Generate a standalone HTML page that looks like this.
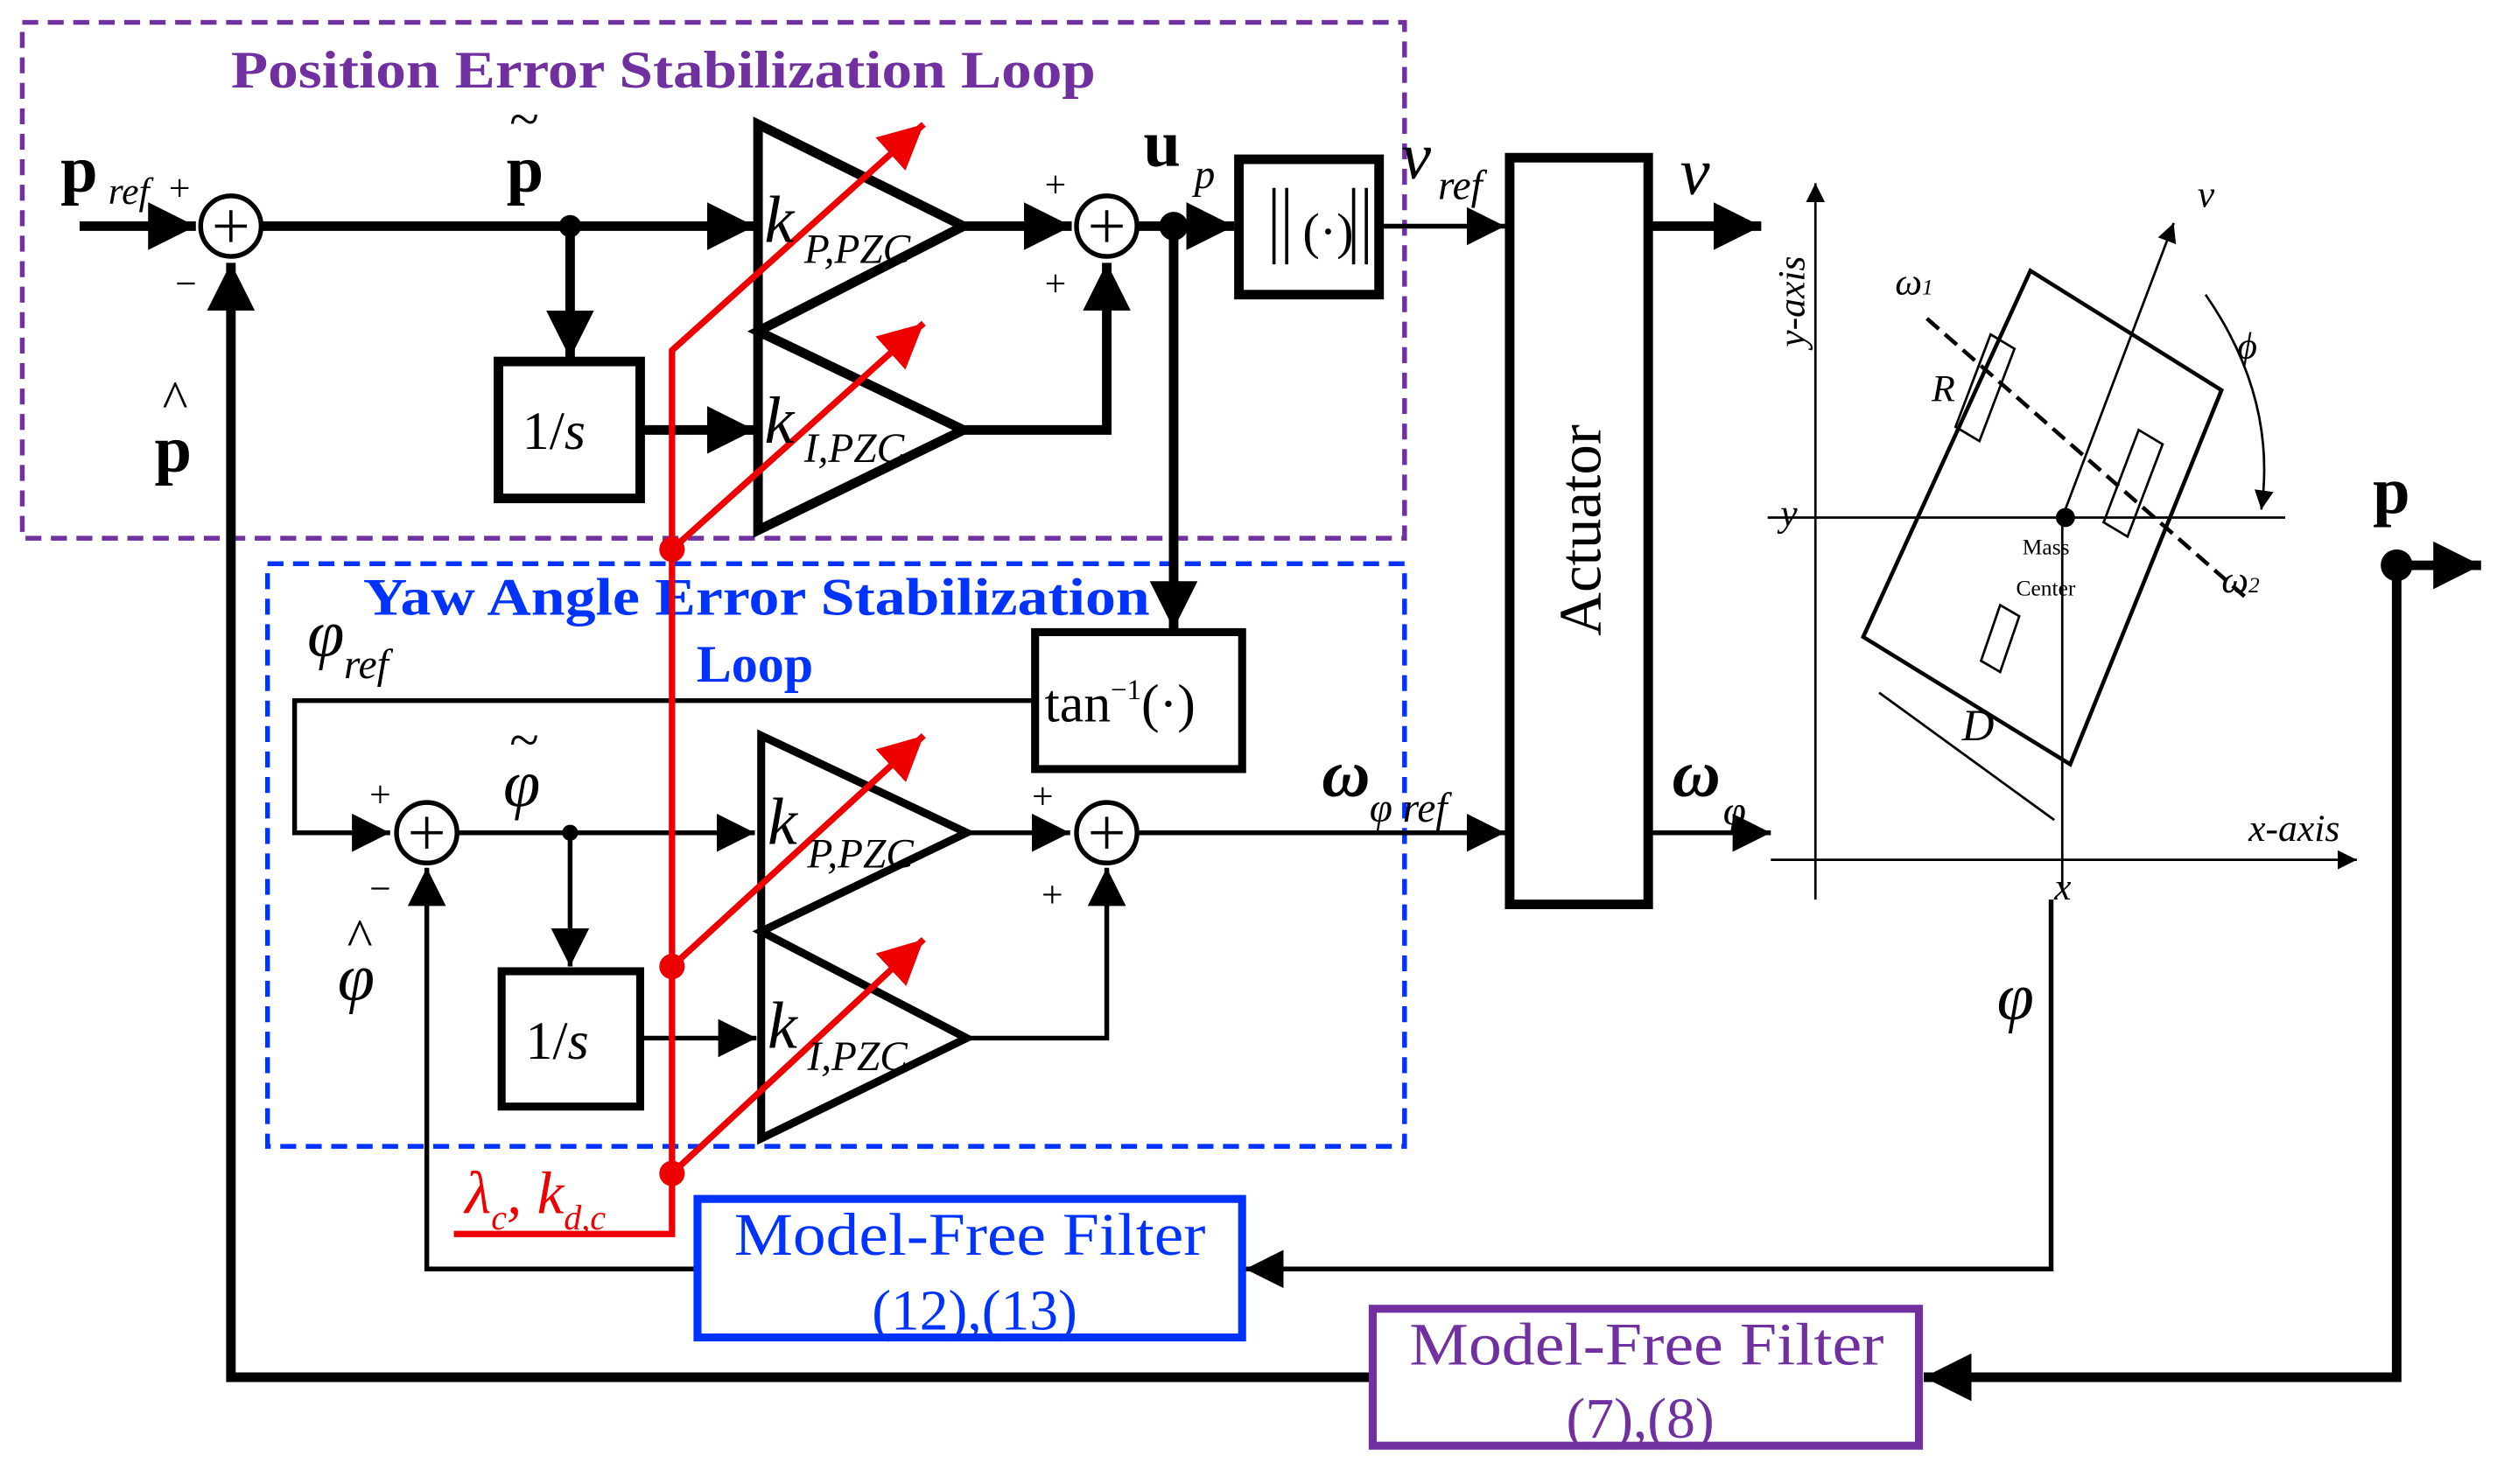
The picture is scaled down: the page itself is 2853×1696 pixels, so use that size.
<!DOCTYPE html>
<html><head><meta charset="utf-8"><style>html,body{margin:0;padding:0;background:#fff}svg{display:block}</style></head>
<body>
<svg width="2853" height="1696" viewBox="0 0 1568 932" xmlns="http://www.w3.org/2000/svg" font-family="'Liberation Serif',serif">
<defs>
<marker id="a" viewBox="0 0 10 10" refX="10" refY="5" markerWidth="5" markerHeight="5" orient="auto" markerUnits="strokeWidth"><path d="M0,0L10,5L0,10z" fill="#000"/></marker>
<marker id="b" viewBox="0 0 10 10" refX="10" refY="5" markerWidth="8" markerHeight="8" orient="auto" markerUnits="strokeWidth"><path d="M0,0L10,5L0,10z" fill="#000"/></marker>
<marker id="r" viewBox="0 0 10 10" refX="10" refY="5" markerWidth="7" markerHeight="7" orient="auto" markerUnits="strokeWidth"><path d="M0,0L10,5L0,10z" fill="#e00"/></marker>
</defs>
<rect x="14" y="14" width="868" height="324" fill="none" stroke="#7030a0" stroke-width="3" stroke-dasharray="10,6"/>
<text x="145" y="55" textLength="543" lengthAdjust="spacingAndGlyphs" font-size="33" font-weight="bold" fill="#7030a0">Position Error Stabilization Loop</text>
<rect x="168" y="354" width="714" height="366" fill="none" stroke="#0033ff" stroke-width="3" stroke-dasharray="10,6"/>
<text x="228" y="386" textLength="494" lengthAdjust="spacingAndGlyphs" font-size="33" font-weight="bold" fill="#0033ff">Yaw Angle Error Stabilization</text>
<text x="474" y="428" text-anchor="middle" font-size="33" font-weight="bold" fill="#0033ff">Loop</text>

<g stroke="#000" fill="none" stroke-width="6">
<line x1="50" y1="142" x2="123" y2="142" marker-end="url(#a)"/>
<line x1="165" y1="142" x2="474" y2="142" marker-end="url(#a)"/>
<line x1="358" y1="142" x2="358" y2="225" marker-end="url(#a)"/>
<rect x="313" y="227" width="89" height="86"/>
<line x1="402" y1="270" x2="474" y2="270" marker-end="url(#a)"/>
<path d="M476,78L476,333L605,270L476,208L605,142Z" stroke-linejoin="miter"/>
<line x1="605" y1="142" x2="673" y2="142" marker-end="url(#a)"/>
<path d="M605,270H695V165" marker-end="url(#a)"/>
<line x1="715" y1="142" x2="775" y2="142" marker-end="url(#a)"/>
<line x1="737" y1="142" x2="737" y2="395" marker-end="url(#a)"/>
<rect x="778" y="100" width="88" height="85"/>
<rect x="948" y="99" width="87" height="469"/>
<line x1="1035" y1="142" x2="1106" y2="142" marker-end="url(#a)"/>
<path d="M862,865H145V165" marker-end="url(#a)"/>
<path d="M1505,355V865H1208" marker-end="url(#a)"/>
<line x1="1505" y1="355" x2="1558" y2="355" marker-end="url(#a)"/>
</g>
<g stroke="#000" fill="none" stroke-width="3">
<circle cx="145" cy="142" r="19"/>
<circle cx="695" cy="142" r="19"/>
<line x1="866" y1="142" x2="945" y2="142" marker-end="url(#b)"/>
<rect x="650" y="397" width="130" height="86" stroke-width="5"/>
<path d="M650,440H185V523H245" marker-end="url(#b)"/>
<circle cx="268" cy="523" r="19"/>
<line x1="288" y1="523" x2="474" y2="523" marker-end="url(#b)"/>
<line x1="358" y1="523" x2="358" y2="607" marker-end="url(#b)"/>
<rect x="315" y="610" width="87" height="85" stroke-width="5"/>
<line x1="402" y1="652" x2="475" y2="652" marker-end="url(#b)"/>
<path d="M478,462L478,715L607,652L478,585L607,523Z" stroke-width="5"/>
<line x1="607" y1="523" x2="672" y2="523" marker-end="url(#b)"/>
<circle cx="695" cy="523" r="19"/>
<path d="M607,652H695V545" marker-end="url(#b)"/>
<line x1="715" y1="523" x2="945" y2="523" marker-end="url(#b)"/>
<line x1="1035" y1="523" x2="1112" y2="523" marker-end="url(#b)"/>
<path d="M438,797H268V545" marker-end="url(#b)"/>
<path d="M1288,565V797H782" marker-end="url(#b)"/>
</g>
<g stroke="#000" stroke-width="2">
<path d="M135,142h20M145,132v20M685,142h20M695,132v20M258,523h20M268,513v20M685,523h20M695,513v20"/>
<path d="M800,118v48M808,118v48M850,118v48M858,118v48"/>
</g>
<circle cx="358" cy="142" r="7"/><circle cx="737" cy="142" r="9"/><circle cx="358" cy="523" r="5"/><circle cx="1505" cy="355" r="10"/>
<rect x="438" y="753" width="342" height="87" fill="none" stroke="#0033ff" stroke-width="5"/>
<text x="609" y="788" text-anchor="middle" font-size="38" textLength="296" lengthAdjust="spacingAndGlyphs" fill="#0033ff">Model-Free Filter</text>
<text x="612" y="835" text-anchor="middle" font-size="36" fill="#0033ff">(12),(13)</text>
<rect x="862" y="822" width="343" height="86" fill="none" stroke="#7030a0" stroke-width="5"/>
<text x="1034" y="857" text-anchor="middle" font-size="38" textLength="298" lengthAdjust="spacingAndGlyphs" fill="#7030a0">Model-Free Filter</text>
<text x="1030" y="903" text-anchor="middle" font-size="36" fill="#7030a0">(7),(8)</text>

<g stroke="#e00" stroke-width="4" fill="none">
<path d="M285,775H422V220L580,78" marker-end="url(#r)"/>
<line x1="422" y1="345" x2="580" y2="203" marker-end="url(#r)"/>
<line x1="422" y1="607" x2="580" y2="462" marker-end="url(#r)"/>
<line x1="422" y1="737" x2="580" y2="590" marker-end="url(#r)"/>
</g>
<g fill="#e00"><circle cx="422" cy="345" r="8"/><circle cx="422" cy="607" r="8"/><circle cx="422" cy="737" r="8"/></g>
<text x="292" y="762" font-size="38" font-style="italic" fill="#e00">λ<tspan font-size="22" dy="10">c</tspan><tspan dy="-10">, k</tspan><tspan font-size="22" dy="10">d,c</tspan></text>

<g font-size="42">
<text x="38" y="120" font-weight="bold">p</text><text x="68" y="128" font-size="24" font-style="italic">ref</text><text x="106" y="126" font-size="24">+</text>
<text x="110" y="186" font-size="24">−</text>
<text x="97" y="296" font-weight="bold">p</text><text x="102" y="262" font-size="34">^</text>
<text x="318" y="120" font-weight="bold">p</text><text x="320" y="86" font-size="34">~</text>
<text x="480" y="152" font-style="italic">k</text><text x="505" y="165" font-size="26" font-style="italic">P,PZC</text>
<text x="480" y="278" font-style="italic">k</text><text x="505" y="290" font-size="26" font-style="italic">I,PZC</text>
<text x="656" y="124" font-size="24">+</text><text x="656" y="186" font-size="24">+</text>
<text x="718" y="104" font-weight="bold">u</text><text x="750" y="118" font-size="26" font-style="italic">p</text>
<text x="818" y="156" font-size="32">(·)</text>
<text x="328" y="282" font-size="34">1/<tspan font-style="italic">s</tspan></text>
<text x="880" y="112" font-style="italic">v</text><text x="903" y="125" font-size="26" font-style="italic">ref</text>
<text x="1055" y="122" font-style="italic">v</text>
<text x="1005" y="333" font-size="38" text-anchor="middle" transform="rotate(-90 1005 333)">Actuator</text>
<text x="1490" y="322" font-weight="bold">p</text>
<text x="193" y="412" font-style="italic">φ</text><text x="216" y="426" font-size="26" font-style="italic">ref</text>
<text x="656" y="453" font-size="34">tan<tspan font-size="18" dy="-14">−1</tspan><tspan dy="14">(·)</tspan></text>
<text x="232" y="507" font-size="24">+</text><text x="232" y="566" font-size="24">−</text>
<text x="316" y="506" font-style="italic">φ</text><text x="320" y="476" font-size="34">~</text>
<text x="212" y="628" font-style="italic">φ</text><text x="218" y="600" font-size="34">^</text>
<text x="482" y="530" font-style="italic">k</text><text x="507" y="545" font-size="26" font-style="italic">P,PZC</text>
<text x="482" y="658" font-style="italic">k</text><text x="507" y="672" font-size="26" font-style="italic">I,PZC</text>
<text x="330" y="665" font-size="34">1/<tspan font-style="italic">s</tspan></text>
<text x="648" y="508" font-size="24">+</text><text x="654" y="570" font-size="24">+</text>
<text x="830" y="500" font-style="italic" font-weight="bold">ω</text><text x="860" y="516" font-size="26" font-style="italic">φ ref</text>
<text x="1050" y="500" font-style="italic" font-weight="bold">ω</text><text x="1082" y="518" font-size="26" font-style="italic">φ</text>
<text x="1254" y="640" font-style="italic">φ</text>
</g>

<g stroke="#000" fill="none" stroke-width="1.5">
<line x1="1140" y1="565" x2="1140" y2="115" marker-end="url(#b)"/>
<line x1="1112" y1="540" x2="1480" y2="540" marker-end="url(#b)"/>
<line x1="1110" y1="325" x2="1435" y2="325"/>
<line x1="1295" y1="325" x2="1295" y2="560"/>
<path d="M1275,170L1395,245L1300,480L1170,400Z" stroke-width="2.5"/>
<path d="M1250,210l15,9l-22,58l-15,-9zM1343,270l15,9l-22,58l-15,-9zM1256,380l12,7l-12,35l-12,-7z"/>
<line x1="1210" y1="200" x2="1410" y2="375" stroke-dasharray="10,5" stroke-width="2.5"/>
<line x1="1295" y1="325" x2="1365" y2="140" marker-end="url(#b)"/>
<line x1="1180" y1="435" x2="1290" y2="515"/>
<path d="M1385,185Q1430,250 1420,320" marker-end="url(#b)"/>
</g>
<circle cx="1297" cy="325" r="6"/>
<g font-style="italic" font-size="24">
<text transform="translate(1133,218) rotate(-90)">y-axis</text>
<text x="1412" y="528">x-axis</text>
<text x="1118" y="330">y</text><text x="1290" y="565">x</text>
<text x="1380" y="130">v</text><text x="1405" y="225">ϕ</text>
<text x="1190" y="185">ω<tspan font-size="14">1</tspan></text>
<text x="1395" y="372">ω<tspan font-size="14">2</tspan></text>
<text x="1213" y="252">R</text><text x="1232" y="465" font-size="28">D</text>
</g>
<text x="1270" y="348" font-size="14">Mass</text><text x="1266" y="374" font-size="14">Center</text>
</svg>
</body></html>
